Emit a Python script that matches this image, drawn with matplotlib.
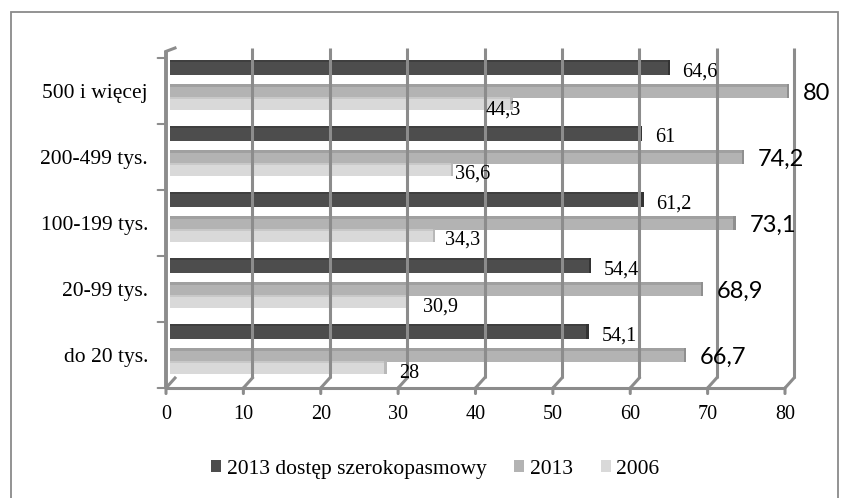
import numpy as np
import matplotlib.pyplot as plt
from matplotlib.patches import Patch, Rectangle
from matplotlib.transforms import ScaledTranslation

# data
categories = ["do 20 tys.", "20-99 tys.", "100-199 tys.", "200-499 tys.", "500 i więcej"]
broadband_2013 = [54.1, 54.4, 61.2, 61, 64.6]
internet_2013 = [66.7, 68.9, 73.1, 74.2, 80]
internet_2006 = [28, 30.9, 34.3, 36.6, 44.3]
series_names = ["2013 dostęp szerokopasmowy", "2013", "2006"]
x_ticks = [0, 10, 20, 30, 40, 50, 60, 70, 80]

serif = "Liberation Serif"
c_dark, c_mid, c_light = "#4d4d4d", "#b3b3b3", "#d9d9d9"
cap_dark, cap_mid, cap_light = "#333333", "#8f8f8f", "#b8b8b8"
grid_c = "#8c8c8c"

fig = plt.figure(figsize=(8.42, 4.98), dpi=100)
fig.patches.append(Rectangle((11 / 842, -0.05), 827 / 842, 1.05 - 12 / 498,
                             transform=fig.transFigure, fill=False,
                             edgecolor="#8a8a8a", lw=1.3))

ax = fig.add_axes([166 / 842, 110 / 498, 619 / 842, 330 / 498])
ax.set_xlim(0, 80)
ax.set_ylim(-0.5, 4.5)
ax.axis("off")

def shift(dx, dy):
    # offset in pixels (dpi = 100)
    return ax.transData + ScaledTranslation(dx / 100, dy / 100, fig.dpi_scale_trans)

back = shift(9, 10)
inv = ax.transData.inverted()
gw = 2.2

# back wall gridlines, floor and x tick labels
for t in x_ticks:
    if t > 0:
        ax.plot([t, t], [-0.5, 4.5], color=grid_c, lw=gw, transform=back,
                clip_on=False, solid_capstyle="butt")
    p0 = inv.transform(back.transform((t, -0.5)))
    ax.plot([p0[0], t], [p0[1], -0.5], color=grid_c, lw=gw, clip_on=False)
    ax.annotate("", xy=(t, -0.5), xytext=(0, -4), textcoords="offset points",
                arrowprops=dict(arrowstyle="-", color=grid_c, lw=gw,
                                shrinkA=0, shrinkB=0))
    ax.annotate(str(t), xy=(t, -0.5), xytext=(0, -19), textcoords="offset points",
                ha="center", va="center", fontsize=14.5, family=serif)

# front floor line
ax.plot([0, 80], [-0.5, -0.5], color=grid_c, lw=gw, clip_on=False,
        solid_capstyle="butt")
# left wall
ax.plot([0, 0], [-0.5, 4.6], color=grid_c, lw=gw + 0.6, clip_on=False,
        solid_capstyle="butt")
tl = inv.transform(back.transform((0, 4.5)))
ax.plot([0, tl[0]], [4.6, tl[1]], color=grid_c, lw=gw, clip_on=False)
# group separator ticks on the left wall
for b in np.arange(-0.5, 5, 1):
    ax.annotate("", xy=(0, b), xytext=(-6, 0), textcoords="offset points",
                arrowprops=dict(arrowstyle="-", color=grid_c, lw=1.5,
                                shrinkA=0, shrinkB=0))

y = np.arange(len(categories))
bar_tr = shift(4, 0)
specs = [
    (broadband_2013, 0.356, 0.23, c_dark, cap_dark),
    (internet_2013, 0.0, 0.2, c_mid, cap_mid),
    (internet_2006, -0.19, 0.185, c_light, cap_light),
]
for vals, off, h, col, cap in specs:
    ax.barh(y + off, vals, height=h, color=col, transform=bar_tr, clip_on=False)
    ax.barh(y + off + h * 0.42, vals, height=h * 0.16, color=cap, alpha=0.5,
            transform=bar_tr, clip_on=False)
    ax.barh(y + off, 0.3, left=np.array(vals) - 0.3, height=h, color=cap,
            transform=bar_tr, clip_on=False)

# data labels (2006 labels were nudged by hand in the original)
nudge_2006 = [(12, -4), (13, -4), (10, -3.5), (4, -3.5), (-17, -4.5)]
for i in range(len(categories)):
    ax.annotate(f"{broadband_2013[i]:g}".replace(".", ","),
                xy=(broadband_2013[i], y[i] + 0.356), xytext=(12, -3),
                textcoords="offset points", ha="left", va="center",
                fontsize=14.5, family=serif)
    ax.annotate(f"{internet_2013[i]:g}".replace(".", ","),
                xy=(internet_2013[i], y[i]), xytext=(13, -1.5),
                textcoords="offset points", ha="left", va="center",
                fontsize=17, family="Lato")
    ax.annotate(f"{internet_2006[i]:g}".replace(".", ","),
                xy=(internet_2006[i], y[i] - 0.19), xytext=nudge_2006[i],
                textcoords="offset points", ha="left", va="center",
                fontsize=14.5, family=serif)

# category labels
for i, cat in enumerate(categories):
    ax.annotate(cat, xy=(0, y[i]), xytext=(-13, -2), textcoords="offset points",
                ha="right", va="center", fontsize=15.5, family=serif)

handles = [Patch(facecolor=c) for c in (c_dark, c_mid, c_light)]
fig.legend(handles, series_names, loc="center", bbox_to_anchor=(0.517, 0.058),
           ncol=3, frameon=False, handlelength=0.47, handleheight=0.47,
           handletextpad=0.25, columnspacing=1.3,
           prop={"family": serif, "size": 15.5})

fig.savefig("out.png", dpi=100)
